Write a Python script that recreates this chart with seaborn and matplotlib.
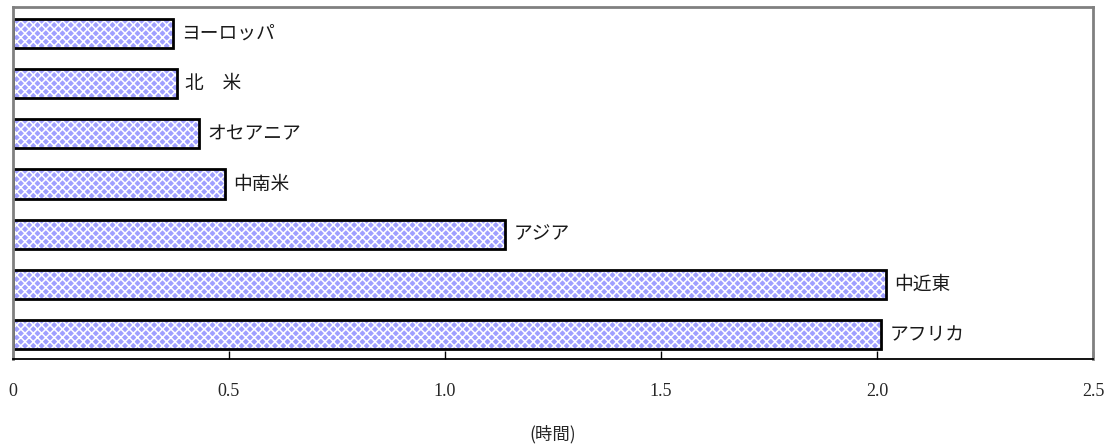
import matplotlib
matplotlib.use("Agg")
import matplotlib.pyplot as plt
import seaborn as sns
import pandas as pd

# Hours per region
regions = ["ヨーロッパ", "北　米", "オセアニア", "中南米", "アジア", "中近東", "アフリカ"]
hours = [0.37, 0.38, 0.43, 0.49, 1.14, 2.02, 2.01]
x_ticks = [0, 0.5, 1.0, 1.5, 2.0, 2.5]
x_tick_labels = ["0", "0.5", "1.0", "1.5", "2.0", "2.5"]
x_title = "(時間)"

sns.set_style("white")
plt.rcParams["font.family"] = ["Noto Sans CJK JP", "DejaVu Sans"]
plt.rcParams["hatch.linewidth"] = 1.1

df = pd.DataFrame({"region": regions, "hours": hours})

fig = plt.figure(figsize=(11.15, 4.46), dpi=100)
ax = fig.add_axes([13 / 1115, 1 - 359 / 446, (1093 - 13) / 1115, (359 - 7) / 446])

# Patterned fill
sns.barplot(data=df, x="hours", y="region", orient="h", order=regions,
            color="#a0a0ff", width=0.58, ax=ax, saturation=1,
            edgecolor="white", linewidth=0, hatch="xxxx")
# Black outline on top
sns.barplot(data=df, x="hours", y="region", orient="h", order=regions,
            color="black", fill=False, width=0.58, ax=ax, linewidth=2)

for i, (name, v) in enumerate(zip(regions, hours)):
    ax.annotate(name, xy=(v, i), xytext=(6, 0), textcoords="offset points",
                ha="left", va="center", fontsize=13.5, color="#1a1a1a",
                family=["Noto Sans CJK JP", "DejaVu Sans"])

ax.set_xlim(0, 2.5)
ax.set_ylim(6.48, -0.52)
ax.set_xticks(x_ticks)
ax.set_xticklabels(x_tick_labels, fontfamily="Liberation Serif", fontsize=13)
ax.set_yticks([])
ax.set_ylabel("")
ax.set_xlabel(x_title, fontsize=12.5, labelpad=18,
              family=["Noto Sans CJK JP", "DejaVu Sans"])
ax.tick_params(axis="x", direction="in", length=6, width=1, color="black",
               pad=17, bottom=True)

for side in ("top", "right", "left"):
    ax.spines[side].set_color("#808080")
    ax.spines[side].set_linewidth(2)
ax.spines["bottom"].set_color("black")
ax.spines["bottom"].set_linewidth(1.3)

fig.savefig("out.png", dpi=100)
